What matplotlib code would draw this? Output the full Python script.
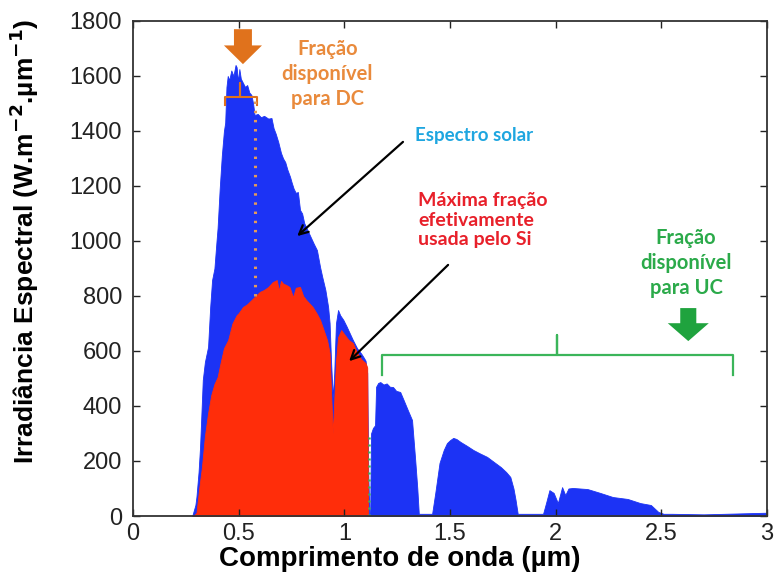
import numpy as np
import matplotlib.pyplot as plt
from matplotlib.patches import FancyArrow

# Solar spectrum (blue), wavelength in um, W/m2/um
blue_wl = [0.280, 0.295, 0.300, 0.310, 0.317, 0.325, 0.330, 0.340, 0.355, 0.365,
           0.374, 0.385, 0.395, 0.400, 0.410, 0.420, 0.430, 0.436, 0.442, 0.448,
           0.455, 0.465, 0.475, 0.485, 0.490, 0.497, 0.503, 0.510, 0.520, 0.530,
           0.540, 0.550, 0.560, 0.568, 0.575, 0.590, 0.605, 0.620, 0.640, 0.655,
           0.665, 0.675, 0.687, 0.700, 0.710, 0.720, 0.730, 0.743, 0.750, 0.760,
           0.770, 0.780, 0.790, 0.800, 0.810, 0.825, 0.840, 0.855, 0.870, 0.885,
           0.895, 0.910, 0.923, 0.930, 0.937, 0.945, 0.952, 0.960, 0.970, 0.980,
           0.995, 1.010, 1.025, 1.040, 1.060, 1.080, 1.090, 1.100, 1.108, 1.113,
           1.118, 1.122, 1.126, 1.135, 1.145, 1.150, 1.160, 1.170, 1.185, 1.200,
           1.215, 1.230, 1.245, 1.264, 1.280, 1.300, 1.320, 1.335, 1.345, 1.352,
           1.415, 1.430, 1.450, 1.470, 1.485, 1.500, 1.515, 1.530, 1.550, 1.580,
           1.610, 1.640, 1.675, 1.710, 1.740, 1.765, 1.785, 1.800, 1.810, 1.820,
           1.940, 1.955, 1.970, 1.990, 2.010, 2.030, 2.045, 2.060, 2.080, 2.150,
           2.210, 2.270, 2.340, 2.400, 2.450, 2.485, 2.510, 2.550, 2.700, 2.800,
           2.900, 3.000]
blue_irr = [0, 40, 70, 160, 250, 400, 495, 560, 615, 760,
            858, 900, 1000, 1047, 1190, 1310, 1400, 1430, 1560, 1600,
            1585, 1620, 1600, 1640, 1632, 1580, 1625, 1590, 1575, 1560,
            1567, 1540, 1531, 1500, 1458, 1462, 1450, 1455, 1445, 1447,
            1410, 1390, 1360, 1320, 1300, 1287, 1260, 1233, 1214, 1190,
            1175, 1178, 1113, 1100, 1065, 1040, 1015, 990, 967, 905,
            870, 822, 760, 702, 560, 430, 520, 700, 749, 730,
            713, 690, 665, 640, 610, 590, 578, 565, 520, 150,
            8, 8, 300, 320, 330, 470, 484, 487, 478, 482,
            470, 469, 455, 451, 422, 385, 349, 204, 100, 8,
            8, 84, 193, 240, 265, 276, 284, 280, 269, 255,
            240, 228, 215, 195, 178, 160, 142, 100, 58, 8,
            8, 50, 94, 84, 47, 105, 76, 100, 102, 98,
            84, 69, 62, 47, 40, 15, 8, 8, 6, 8,
            10, 12]

# Maximum fraction usable by Si (red)
red_wl = [0.285, 0.300, 0.313, 0.326, 0.340, 0.355, 0.370, 0.385, 0.400, 0.415,
          0.430, 0.450, 0.470, 0.490, 0.500, 0.520, 0.540, 0.560, 0.580, 0.600,
          0.620, 0.640, 0.660, 0.680, 0.690, 0.700, 0.710, 0.725, 0.740, 0.757,
          0.770, 0.790, 0.805, 0.820, 0.850, 0.870, 0.885, 0.900, 0.918, 0.930,
          0.937, 0.945, 0.952, 0.960, 0.970, 0.985, 1.000, 1.020, 1.040, 1.060,
          1.080, 1.100, 1.108, 1.112]
red_irr = [0, 11, 100, 178, 290, 374, 440, 480, 505, 560,
           610, 640, 700, 730, 738, 760, 770, 785, 800, 815,
           822, 833, 850, 858, 820, 855, 845, 840, 833, 796,
           830, 833, 800, 785, 760, 735, 713, 680, 640, 593,
           450, 300, 420, 560, 650, 676, 660, 640, 629, 593,
           570, 556, 540, 0]

xticks = [0, 0.5, 1, 1.5, 2, 2.5, 3]
xtick_labels = ['0', '0.5', '1', '1.5', '2', '2.5', '3']
yticks = [0, 200, 400, 600, 800, 1000, 1200, 1400, 1600, 1800]

plt.rcParams['font.family'] = ['Liberation Sans', 'DejaVu Sans']
note_font = ['Lato', 'DejaVu Sans']

fig = plt.figure(figsize=(7.78, 5.82), dpi=100)
ax = fig.add_axes([0.171, 0.1134, 0.815, 0.8506])

ax.fill_between(blue_wl, blue_irr, 0, color='#1c33f5', lw=0.6, edgecolor='#1c33f5')
ax.fill_between(red_wl, red_irr, 0, color='#ff2d0a', lw=0.6, edgecolor='#ff2d0a')

# DC part: bracket, dotted line, arrow
orange = '#e0721c'
ax.plot([0.435, 0.435, 0.506, 0.506, 0.506, 0.587, 0.587],
        [1495, 1524, 1524, 1574, 1524, 1524, 1495], color=orange, lw=1.5)
ax.plot([0.575, 0.575], [800, 1510], color='#e39a5a', lw=2.2, ls=(0, (0.8, 2.2)))
ax.add_patch(FancyArrow(0.52, 1770, 0, -127, width=0.085, head_width=0.18,
                        head_length=68, length_includes_head=True,
                        color=orange, lw=0))
ax.text(0.92, 1607, 'Fração\ndisponível\npara DC', color='#e98a3c', fontsize=14.5,
        fontweight='bold', family=note_font, ha='center', va='center',
        linespacing=1.3)

# UC part
green = '#3bb55a'
ax.plot([1.18, 1.18, 2.006, 2.006, 2.006, 2.84, 2.84],
        [513, 585, 585, 658, 585, 585, 513], color=green, lw=1.6,
        solid_joinstyle='round')
ax.plot([1.115, 1.115], [0, 290], color=green, lw=1.8, ls=(0, (0.8, 2.0)))
ax.add_patch(FancyArrow(2.627, 756, 0, -120, width=0.076, head_width=0.194,
                        head_length=65, length_includes_head=True,
                        color='#1fa33e', lw=0))
ax.text(2.617, 920, 'Fração\ndisponível\npara UC', color='#2baa4a', fontsize=14.5,
        fontweight='bold', family=note_font, ha='center', va='center',
        linespacing=1.3)

# pointers
ax.annotate('', xy=(0.767, 1011), xytext=(1.287, 1367),
            arrowprops=dict(arrowstyle='->', color='black', lw=1.6,
                            mutation_scale=16))
ax.text(1.615, 1385, 'Espectro solar', color='#1ea6e0', fontsize=13.5,
        fontweight='bold', family=note_font, ha='center', va='center')
ax.annotate('', xy=(1.013, 556), xytext=(1.50, 920),
            arrowprops=dict(arrowstyle='->', color='black', lw=1.6,
                            mutation_scale=16))
ax.text(1.349, 1076, 'Máxima fração\nefetivamente\nusada pelo Si', color='#e8202a',
        fontsize=14, fontweight='bold', family=note_font, ha='left',
        va='center', linespacing=1.15)

ax.set_xlim(0, 3)
ax.set_ylim(0, 1800)
ax.set_xticks(xticks)
ax.set_xticklabels(xtick_labels)
ax.set_yticks(yticks)
ax.tick_params(direction='in', length=5, width=1, top=True, right=True,
               labelsize=17, colors='#222222')
ax.tick_params(axis='y', pad=8)
ax.tick_params(axis='x', pad=5)
for s in ax.spines.values():
    s.set_color('#333333')
    s.set_linewidth(1.3)

ax.set_xlabel('Comprimento de onda (µm)', fontsize=20, fontweight='bold')
ax.xaxis.set_label_coords(0.42, -0.06)
ax.set_ylabel('Irradiância Espectral (W.m$^{\\mathbf{-2}}$.µm$^{\\mathbf{-1}}$)',
              fontsize=19, fontweight='bold')
ax.yaxis.set_label_coords(-0.145, 0.555)

fig.savefig('out.png', dpi=100)
